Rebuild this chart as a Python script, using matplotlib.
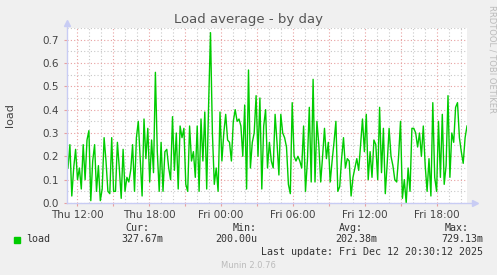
import matplotlib
matplotlib.use("Agg")
import matplotlib.pyplot as plt
import matplotlib.dates as mdates
from matplotlib.ticker import MultipleLocator, FuncFormatter
import pandas as pd

# load average samples, Thu 11:10 -> Fri 20:30
seg1 = [0.15, 0.25, 0.03, 0.15, 0.23, 0.10, 0.15, 0.06, 0.25, 0.10, 0.27, 0.31, 0.01,
        0.18, 0.25, 0.05, 0.16, 0.01, 0.06, 0.28, 0.18, 0.05, 0.04, 0.28, 0.05, 0.05]
seg2 = [0.26, 0.15, 0.02, 0.23, 0.05, 0.11, 0.09, 0.14, 0.25, 0.05, 0.28, 0.35, 0.19,
        0.03, 0.36, 0.19, 0.32, 0.09, 0.27, 0.13, 0.56, 0.22, 0.05, 0.26, 0.05, 0.22]
seg3 = [0.23, 0.15, 0.10, 0.37, 0.14, 0.30, 0.06, 0.33, 0.28, 0.32, 0.08, 0.05, 0.33,
        0.18, 0.22, 0.11, 0.33, 0.05, 0.36, 0.18, 0.39, 0.06, 0.42, 0.73, 0.30, 0.08]
seg4 = [0.15, 0.05, 0.39, 0.18, 0.30, 0.38, 0.27, 0.26, 0.18, 0.35, 0.40, 0.35, 0.36,
        0.33, 0.20, 0.42, 0.06, 0.57, 0.15, 0.26, 0.30, 0.46, 0.20, 0.45, 0.06, 0.33]
seg5 = [0.40, 0.15, 0.26, 0.18, 0.15, 0.38, 0.26, 0.12, 0.38, 0.30, 0.28, 0.24, 0.08,
        0.04, 0.43, 0.20, 0.18, 0.20, 0.18, 0.15, 0.33, 0.05, 0.18, 0.41, 0.09, 0.53]
seg6 = [0.09, 0.35, 0.25, 0.09, 0.20, 0.32, 0.19, 0.26, 0.09, 0.18, 0.26, 0.35, 0.05,
        0.07, 0.19, 0.28, 0.15, 0.19, 0.18, 0.03, 0.11, 0.15, 0.19, 0.14, 0.25, 0.36]
seg7 = [0.22, 0.38, 0.10, 0.22, 0.11, 0.27, 0.25, 0.10, 0.41, 0.13, 0.32, 0.04, 0.17,
        0.32, 0.20, 0.16, 0.10, 0.09, 0.20, 0.35, 0.02, 0.10, 0.00, 0.15, 0.05, 0.32]
seg8 = [0.32, 0.30, 0.24, 0.30, 0.20, 0.33, 0.16, 0.05, 0.19, 0.03, 0.43, 0.11, 0.05,
        0.35, 0.11, 0.38, 0.08, 0.16, 0.46, 0.11, 0.30, 0.26, 0.41, 0.43, 0.28, 0.22,
        0.17, 0.28, 0.33]
load = seg1 + seg2 + seg3 + seg4 + seg5 + seg6 + seg7 + seg8

start = pd.Timestamp("2025-12-11 11:10:12")
end = pd.Timestamp("2025-12-12 20:30:12")
times = pd.date_range(start + pd.Timedelta(minutes=5), end, periods=len(load))

legend_cols = ["Cur:", "Min:", "Avg:", "Max:"]
legend_vals = ["327.67m", "200.00u", "202.38m", "729.13m"]

bg = "#F0F0F0"
fig = plt.figure(figsize=(4.97, 2.75), dpi=100, facecolor=bg)
ax = fig.add_axes([67 / 497, 72 / 275, 400 / 497, 175 / 275])
ax.set_facecolor("white")

ax.plot(times, load, color="#00CC00", lw=1.0)

ax.set_xlim(start, end)
ax.set_ylim(0, 0.75)

ax.xaxis.set_major_locator(mdates.HourLocator(byhour=range(0, 24, 3)))
ax.xaxis.set_minor_locator(mdates.HourLocator())
ax.xaxis.set_major_formatter(FuncFormatter(
    lambda v, p: mdates.num2date(v).strftime("%a %H:%M") if mdates.num2date(v).hour % 6 == 0 else ""))
ax.yaxis.set_major_locator(MultipleLocator(0.1))
ax.yaxis.set_minor_locator(MultipleLocator(0.05))
ax.yaxis.set_major_formatter(FuncFormatter(lambda v, p: f"{v:.1f}"))

ax.grid(which="major", color="#E8A0A0", linestyle=(0, (1, 2)), lw=0.8)
ax.grid(which="minor", color="#C8C8C8", linestyle=(0, (1, 2)), lw=0.8)
ax.set_axisbelow(True)

ax.tick_params(which="major", length=2, color="#E8A0A0", labelsize=7.5,
               labelcolor="#444444", pad=4)
ax.tick_params(which="minor", length=0)
ax.tick_params(axis="x", pad=3)

for s in ax.spines.values():
    s.set_visible(False)

axis_c = "#C8CCF4"
ax.plot([0, 0], [0, 1.03], transform=ax.transAxes, color=axis_c, lw=1, clip_on=False)
ax.plot([0, 1.02], [0, 0], transform=ax.transAxes, color=axis_c, lw=1, clip_on=False)
ax.plot([0], [1.03], marker="^", ms=4, color=axis_c, transform=ax.transAxes, clip_on=False)
ax.plot([1.02], [0], marker=">", ms=4, color=axis_c, transform=ax.transAxes, clip_on=False)

fig.text(248 / 497, 1 - 19 / 275, "Load average - by day", ha="center", va="center",
         fontsize=9.5, color="#555555")
fig.text(10 / 497, 1 - 115 / 275, "load", rotation=90, ha="center", va="center",
         fontsize=8, color="#444444")
fig.text(492 / 497, 1 - 5 / 275, "RRDTOOL / TOBI OETIKER", rotation=270, ha="center",
         va="top", fontsize=6, color="#BBBBBB")

mono = "DejaVu Sans Mono"
fig.patches.append(plt.Rectangle((14 / 497, 1 - 243 / 275), 6 / 497, 6 / 275,
                                 transform=fig.transFigure, color="#00CC00"))
fig.text(26 / 497, 1 - 239 / 275, "load", family=mono, fontsize=7.2, color="#333333",
         va="center")
head_x = [149, 257, 363, 469]
val_x = [163, 257, 377, 483]
for h, v, hx, vx in zip(legend_cols, legend_vals, head_x, val_x):
    fig.text(hx / 497, 1 - 228 / 275, h, family=mono, fontsize=7.2, color="#333333",
             ha="right", va="center")
    fig.text(vx / 497, 1 - 239 / 275, v, family=mono, fontsize=7.2, color="#333333",
             ha="right", va="center")
fig.text(483 / 497, 1 - 252 / 275, "Last update: Fri Dec 12 20:30:12 2025", family=mono,
         fontsize=7.2, color="#333333", ha="right", va="center")
fig.text(248 / 497, 1 - 265 / 275, "Munin 2.0.76", fontsize=6, color="#BBBBBB",
         ha="center", va="center")

fig.savefig("out.png", dpi=100, facecolor=bg)
